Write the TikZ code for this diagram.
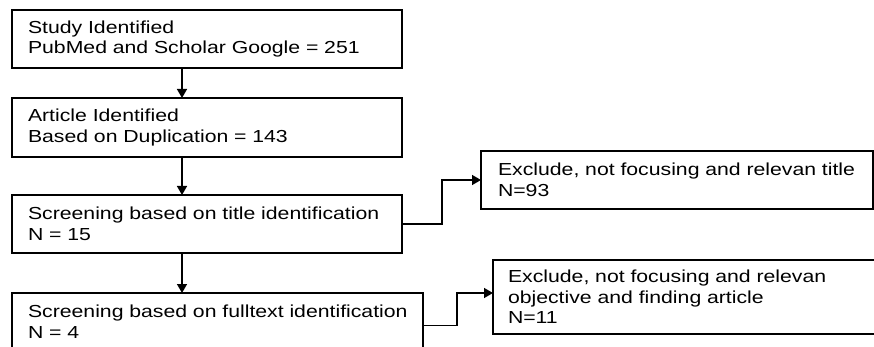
\documentclass[tikz,border=0pt]{standalone}
\usepackage{fontspec}
\setmainfont{Liberation Sans}[FakeStretch=1.22]
\usetikzlibrary{arrows.meta}
\begin{document}
\begin{tikzpicture}[x=1pt,y=-1pt,
  box/.style={draw, line width=1.4pt, rectangle, anchor=north west, align=left,
    inner xsep=16pt, inner ysep=0pt, outer sep=0pt,
    font=\fontsize{17.4}{20.5}\selectfont},
  arr/.style={line width=1.4pt, -{Triangle[length=9pt,width=10pt]}}]
\path[use as bounding box, clip] (0,0) rectangle (874,347);
\node[box, minimum width=390pt, minimum height=58pt, text width=358pt] (b1) at (12,10)
  {\mbox{Study Identified}\\\mbox{PubMed and Scholar Google = 251}};
\node[box, minimum width=390pt, minimum height=59pt, text width=358pt] (b2) at (12,98)
  {\mbox{Article Identified}\\\mbox{Based on Duplication = 143}};
\node[box, minimum width=390pt, minimum height=58pt, text width=358pt] (b3) at (12,195)
  {\mbox{Screening based on title identification}\\\mbox{N = 15}};
\node[box, minimum width=411pt, minimum height=57pt, text width=379pt] (b4) at (12,293)
  {\mbox{Screening based on fulltext identification}\\\mbox{N = 4}};
\node[box, minimum width=392pt, minimum height=58pt, text width=358pt, inner xsep=17pt] (b5) at (481,151)
  {\mbox{Exclude, not focusing and relevan title}\\\mbox{N=93}};
\node[box, minimum width=392pt, minimum height=74pt, text width=362pt, inner xsep=15pt] (b6) at (493,260)
  {\mbox{Exclude, not focusing and relevan}\\\mbox{objective and finding article}\\\mbox{N=11}};
\draw[arr] ([xshift=170pt]b1.south west) -- ([xshift=170pt]b2.north west);
\draw[arr] ([xshift=170pt]b2.south west) -- ([xshift=170pt]b3.north west);
\draw[arr] ([xshift=170pt]b3.south west) -- ([xshift=170pt]b4.north west);
\draw[arr] (b3.east) -- ++(40,0) |- (b5.west);
\draw[arr] ([yshift=-4pt]b4.east) -- ++(34,0) |- ([yshift=4pt]b6.west);
\end{tikzpicture}
\end{document}
